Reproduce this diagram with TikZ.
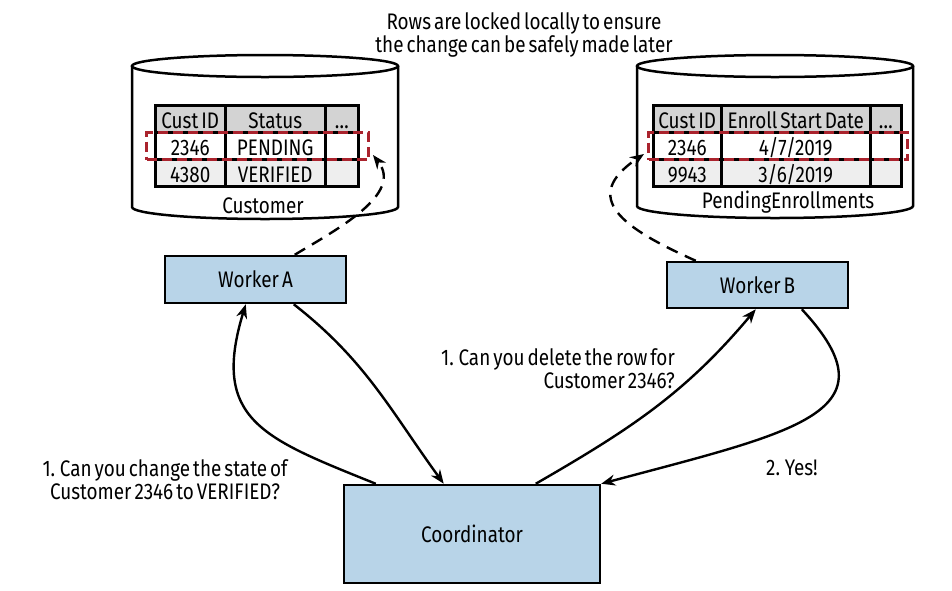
\documentclass[tikz,border=0pt]{standalone}
\usepackage{fontspec}
\setmainfont[FakeStretch=0.84, WordSpace=0.6]{Fira Sans}
\usepackage{tikz}
\usetikzlibrary{arrows.meta}
\definecolor{boxblue}{RGB}{184,212,232}
\definecolor{hdrgray}{RGB}{211,211,211}
\definecolor{rowgray}{RGB}{238,238,238}
\definecolor{lockred}{RGB}{170,35,45}
\tikzset{>={Stealth[length=14pt,width=11pt]}}
\tikzset{
    box/.style={draw, line width=2.5pt, fill=boxblue},
    cell/.style={draw, line width=2.5pt, anchor=north west, minimum height=27pt, text height=19pt, text depth=0pt},
    lockbox/.style={draw=lockred, line width=3pt, dash pattern=on 10pt off 5pt, anchor=north west, minimum height=27pt},
    msg/.style={->, line width=2.4pt},
    lockmsg/.style={->, line width=2.4pt, dash pattern=on 12pt off 8pt},
}

\begin{document}
\begin{tikzpicture}[x=1pt, y=1pt, inner sep=0pt, font=\fontsize{22.5}{23}\selectfont]
    \useasboundingbox (0,0) rectangle (952,-590);

    \node[align=center] (note) at (524,-34.6) {Rows are locked locally to ensure\\the change can be safely made later};

    % Customer database
    \draw[line width=2.5pt] (132,-66) -- (132,-207) arc[start angle=180, end angle=360, x radius=133, y radius=12] -- (398,-66);
    \draw[line width=2.5pt] (265,-66) ellipse[x radius=133, y radius=11];
    \foreach \r/\ca/\cb/\cc/\fc in {0/Cust ID/Status/\ldots/hdrgray, 1/2346/PENDING//white, 2/4380/VERIFIED//rowgray}{
        \node[cell, fill=\fc, minimum width=70pt] (cust-\r-a) at (154,-104-27*\r) {\ca};
        \node[cell, fill=\fc, minimum width=100pt] (cust-\r-b) at (224,-104-27*\r) {\cb};
        \node[cell, fill=\fc, minimum width=33pt] (cust-\r-c) at (324,-104-27*\r) {\cc};
    }
    \node[lockbox, minimum width=222pt] (lockA) at (145,-131) {};
    \node[anchor=base] (custlbl) at (263,-213) {Customer};

    % PendingEnrollments database
    \draw[line width=2.5pt] (637,-66) -- (637,-206) arc[start angle=180, end angle=360, x radius=138, y radius=12] -- (913,-66);
    \draw[line width=2.5pt] (775,-66) ellipse[x radius=138, y radius=11];
    \foreach \r/\ca/\cb/\cc/\fc in {0/Cust ID/Enroll Start Date/\ldots/hdrgray, 1/2346/{4/7/2019}//white, 2/9943/{3/6/2019}//rowgray}{
        \node[cell, fill=\fc, minimum width=68pt] (pend-\r-a) at (652,-104-27*\r) {\ca};
        \node[cell, fill=\fc, minimum width=149pt] (pend-\r-b) at (720,-104-27*\r) {\cb};
        \node[cell, fill=\fc, minimum width=31pt] (pend-\r-c) at (869,-104-27*\r) {\cc};
    }
    \node[lockbox, minimum width=259pt] (lockB) at (647,-131) {};
    \node[anchor=base] (penlbl) at (788,-208) {PendingEnrollments};

    % workers and coordinator
    \node[box, minimum width=181pt, minimum height=47pt] (wa) at (255.5,-279.5) {Worker A};
    \node[box, minimum width=181pt, minimum height=46pt] (wb) at (757.5,-285) {Worker B};
    \node[box, minimum width=256pt, minimum height=98pt] (coord) at (472,-534) {Coordinator};

    \draw[lockmsg] ([xshift=131pt]wa.north west) to[out=31, in=-52] ([xshift=3pt,yshift=6pt]lockA.south east);
    \draw[lockmsg] ([xshift=30pt]wb.north west) to[out=156, in=-146, looseness=1.7] ([xshift=-3pt,yshift=7pt]lockB.south west);

    \draw[msg] ([xshift=33pt]coord.north west) to[out=158, in=-107, looseness=1.4] ([xshift=82pt]wa.south west);
    \draw[msg] ([xshift=130pt]wa.south west) to[out=-38, in=126] ([xshift=101pt]coord.north west);
    \draw[msg] ([xshift=193pt]coord.north west) to[out=30, in=-130] ([xshift=90pt]wb.south west);
    \draw[msg] ([xshift=136pt]wb.south west) to[out=-47, in=15, out looseness=1.36, in looseness=1.94] (coord.north east);

    \node[align=center] (askA) at (165,-480) {1. Can you change the state of\\Customer 2346 to VERIFIED?};
    \node[align=right, anchor=east] (askB) at (675,-368.6) {1. Can you delete the row for\\Customer 2346?};
    \node[anchor=base] (yesB) at (792,-475) {2. Yes!};

\end{tikzpicture}
\end{document}
